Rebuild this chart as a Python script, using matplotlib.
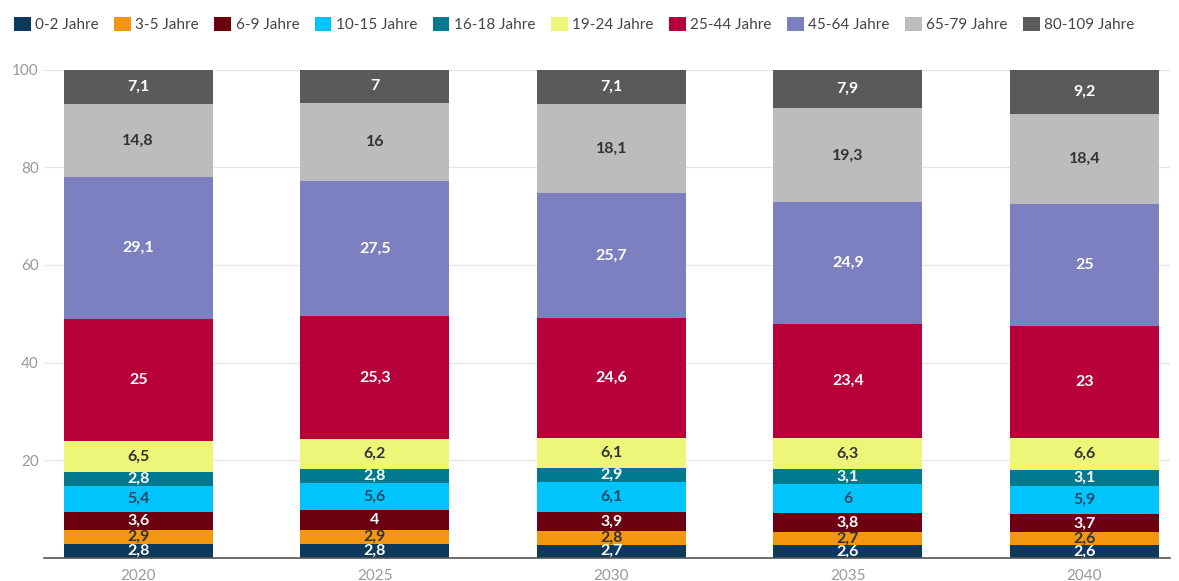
import numpy as np
import matplotlib
matplotlib.use("Agg")
import matplotlib.pyplot as plt
from matplotlib.patches import Patch

plt.rcParams["font.family"] = ["Lato", "DejaVu Sans"]

years = ["2020", "2025", "2030", "2035", "2040"]
groups = ["0-2 Jahre", "3-5 Jahre", "6-9 Jahre", "10-15 Jahre", "16-18 Jahre",
          "19-24 Jahre", "25-44 Jahre", "45-64 Jahre", "65-79 Jahre", "80-109 Jahre"]

age_0_2 = [2.8, 2.8, 2.7, 2.6, 2.6]
age_3_5 = [2.9, 2.9, 2.8, 2.7, 2.6]
age_6_9 = [3.6, 4.0, 3.9, 3.8, 3.7]
age_10_15 = [5.4, 5.6, 6.1, 6.0, 5.9]
age_16_18 = [2.8, 2.8, 2.9, 3.1, 3.1]
age_19_24 = [6.5, 6.2, 6.1, 6.3, 6.6]
age_25_44 = [25.0, 25.3, 24.6, 23.4, 23.0]
age_45_64 = [29.1, 27.5, 25.7, 24.9, 25.0]
age_65_79 = [14.8, 16.0, 18.1, 19.3, 18.4]
age_80_109 = [7.1, 7.0, 7.1, 7.9, 9.2]

series = [age_0_2, age_3_5, age_6_9, age_10_15, age_16_18,
          age_19_24, age_25_44, age_45_64, age_65_79, age_80_109]
colors = ["#0c3a5c", "#f2970f", "#6d0010", "#00c4fc", "#017a90",
          "#eef67a", "#b7003a", "#7c7fc0", "#bcbcbc", "#5a5a5a"]
label_colors = ["white", "#333333", "white", "#2b4a66", "white",
                "#333333", "white", "white", "#333333", "white"]

def fmt(v):
    s = f"{v:.1f}"
    if s.endswith(".0"):
        s = s[:-2]
    return s.replace(".", ",")

fig = plt.figure(figsize=(11.79, 5.81), dpi=100)
ax = fig.add_axes([0.037, 0.04, 0.955, 0.84])

x = np.arange(len(years))
bottom = np.zeros(len(years))
for vals, col, lc in zip(series, colors, label_colors):
    vals = np.array(vals)
    ax.bar(x, vals, bottom=bottom, width=0.63, color=col, zorder=3)
    for xi, b, v in zip(x, bottom, vals):
        ax.text(xi, b + v / 2, fmt(v), ha="center", va="center",
                fontsize=11.5, color=lc, fontweight="bold", zorder=4)
    bottom += vals

ax.set_xlim(-0.4, 4.36)
ax.set_ylim(0, 100)
ax.set_xticks(x)
ax.set_xticklabels(years)
ax.set_yticks([0, 20, 40, 60, 80, 100])
ax.set_yticklabels(["", "20", "40", "60", "80", "100"])
ax.tick_params(axis="both", length=0, colors="#999999", labelsize=11)
ax.tick_params(axis="x", pad=8)
ax.grid(axis="y", color="#e6e6e6", linewidth=1, zorder=0)
for sp in ["top", "right", "left"]:
    ax.spines[sp].set_visible(False)
ax.spines["bottom"].set_color("#555555")
ax.spines["bottom"].set_linewidth(1.2)
ax.spines["bottom"].set_zorder(5)

handles = [Patch(facecolor=c, label=g) for c, g in zip(colors, groups)]
fig.legend(handles=handles, loc="upper left", bbox_to_anchor=(0.0, 0.995),
           ncol=10, frameon=False, fontsize=11, handlelength=1.1,
           handleheight=1.1, handletextpad=0.3, columnspacing=1.0,
           labelcolor="#444444")

fig.savefig("out.png", dpi=100)
